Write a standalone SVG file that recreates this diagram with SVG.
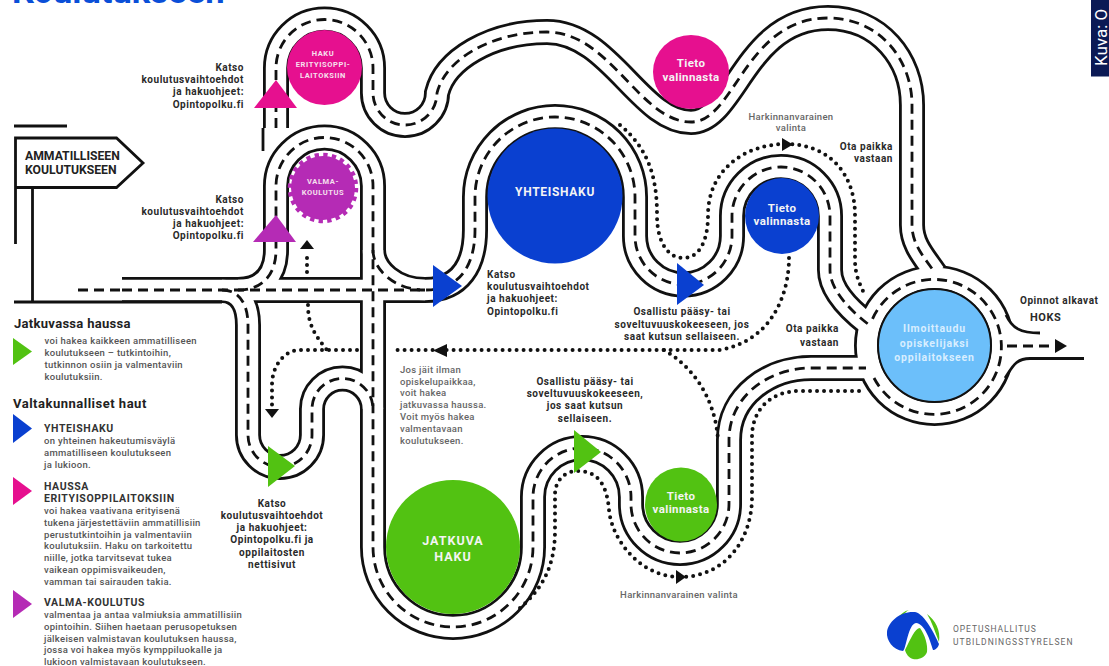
<svg xmlns="http://www.w3.org/2000/svg" width="1109" height="666" viewBox="0 0 1109 666">
<style>
text{font-family:"Roboto","Liberation Sans",sans-serif}
.e{fill:none;stroke:#111;stroke-width:26}
.w{fill:none;stroke:#fff;stroke-width:20.4}
.d{fill:none;stroke:#111;stroke-width:2.8;stroke-dasharray:10 6}
.l{fill:none;stroke:#111;stroke-width:2.8}
.o{fill:none;stroke:#111;stroke-width:4;stroke-linecap:round;stroke-dasharray:0 7}
.a{fill:#111}
.k{font-size:10px;font-weight:700;fill:#2a2a2a;letter-spacing:.55px}
.m{text-anchor:middle}.r{text-anchor:end}
.g{font-size:9.5px;fill:#666;letter-spacing:.3px;font-weight:500}
.b{font-size:9.5px;fill:#555;letter-spacing:.3px;font-weight:500}
.h{font-size:10.5px;font-weight:700;fill:#333;letter-spacing:.6px}
.t{font-size:11.5px;font-weight:700;fill:#f4f4f4;text-anchor:middle;letter-spacing:.4px}
.s{font-size:7.5px;font-weight:700;fill:#f6e0ee;text-anchor:middle;letter-spacing:.6px}
</style>
<defs>
<path id="r1" d="M276,128V68A48.5,48.5 0 0 1 373,68V93A32,32 0 0 0 437,93C445,60 490,32 547,32C610,32 640,122 691,122C735,122 745,18 828,18C880,18 912,60 912,105V225C912,245 925,258 935,273"/>
<path id="r2" d="M122,290H425C460,290 475,265 475,230V197A80,80 0 0 1 635,197V236A48.5,48.5 0 0 0 732,236V216A49,49 0 0 1 830,216V270C830,290 850,310 868,324"/>
<path id="r3" d="M238,290C262,290 276,275 276,250V186A48.5,48.5 0 0 1 373,186V547A80,80 0 0 0 533,547V497A49,49 0 0 1 631,497V504A49,49 0 0 0 729,504V440C729,395 770,368 811,368H866"/>
<path id="r4" d="M222,290C240,290 248,305 248,325V435A32,32 0 0 0 312,435V409A30.5,30.5 0 0 1 373,409"/>
<path id="r5" d="M373,250C373,270 395,290 425,290"/>
<circle id="r6" cx="934.500" cy="345.500" r="67.500"/>
<path id="r8" d="M874,378A67.500,67.500 0 1 0 872,320"/>
</defs>
<g id="connectors">
<g class="e"><use href="#r1"/><use href="#r2"/><use href="#r3"/><use href="#r4"/><use href="#r5"/><use href="#r6"/></g>
<g class="w"><use href="#r1"/><use href="#r2"/><use href="#r3"/><use href="#r4"/><use href="#r5"/><use href="#r6"/></g>
<path d="M1000,312L1006,315C1012,328 1020,333 1040,333V358.500H1030C1015,358.500 1012,368 1005,378L998,380Z" fill="#fff"/>
<g class="d"><use href="#r1"/><use href="#r2"/><use href="#r3"/><use href="#r4"/><use href="#r5"/><use href="#r8"/></g>
<path class="d" d="M78,290H122"/>
<path class="d" d="M1007,346H1055"/>
<path class="l" d="M14,302H222"/>
<path class="l" d="M263,128V151"/>
<path class="l" d="M1006,315C1012,328 1020,333 1040,333"/>
<path class="l" d="M1084,358.500H1030C1015,358.500 1012,368 1005,378"/>
<path class="o" d="M620,125C650,150 657,180 657,215C657,245 670,258 683,258C700,258 708,240 708,215C708,170 745,144 786,144C830,144 855,175 855,215V260C855,275 860,285 865,295"/>
<path class="o" d="M789,258C789,290 775,340 720,350H392"/>
<path class="o" d="M357,350H300C285,350 272,365 272,385V405"/>
<path class="o" d="M307,272V252"/>
<path class="o" d="M308,305C308,325 315,335 327,350"/>
<path class="o" d="M664,350C690,365 715,395 718,440"/>
<path class="o" d="M520,608C540,590 555,570 555,530V495C555,480 565,471 578,471C598,471 607,485 609,510C612,540 640,577 680,577C725,577 752,540 752,497V437C752,410 770,391 800,391H864"/>
<path class="a" d="M782,138L793,144.500L782,151Z"/>
<path class="a" d="M447,344L433,350.500L447,357Z"/>
<path class="a" d="M265,409H279L272,418Z"/>
<path class="a" d="M307,240L300,249H314Z"/>
<path class="a" d="M676,570L686,577L676,584Z"/>
<path class="a" d="M1055,339L1067,346L1055,353Z"/>
</g>
<g id="sign">
<path class="l" d="M15.500,244V138H116.500L143,163L116.500,187.500H15.500M32.500,187.500V302M14,126H67"/>
<text x="25" y="160" style="font-size:12.200px;font-weight:700;fill:#222">AMMATILLISEEN</text>
<text x="25" y="174" style="font-size:12.200px;font-weight:700;fill:#222">KOULUTUKSEEN</text>
</g>
<g id="node-haku">
<circle cx="324.500" cy="67.500" r="37.500" fill="#e6108f"/>
<text class="s" x="323" y="56">HAKU</text><text class="s" x="323" y="67">ERITYISOPPI-</text><text class="s" x="323" y="78">LAITOKSIIN</text>
</g>
<g id="node-valma">
<circle cx="323" cy="188" r="32" fill="#b52bb5"/>
<circle cx="323" cy="188" r="33" fill="none" stroke="#b52bb5" stroke-width="4.500" stroke-dasharray="4.320 4.320"/>
<text class="s" x="323" y="184">VALMA-</text><text class="s" x="323" y="194.500">KOULUTUS</text>
</g>
<g id="node-tieto-pink">
<ellipse cx="691" cy="72" rx="38" ry="37" fill="#e6108f"/>
<text class="t" x="691" y="67">Tieto</text><text class="t" x="691" y="81">valinnasta</text>
</g>
<g id="node-yhteishaku">
<circle cx="555" cy="196" r="67.500" fill="#0a40d0"/>
<text class="t" x="555" y="196" style="font-size:12px;letter-spacing:.7px">YHTEISHAKU</text>
</g>
<g id="node-tieto-blue">
<ellipse cx="782" cy="216" rx="37" ry="38" fill="#0a40d0"/>
<text class="t" x="782" y="212">Tieto</text><text class="t" x="782" y="225">valinnasta</text>
</g>
<g id="node-ilmoittaudu">
<circle cx="934.500" cy="345.500" r="56.500" fill="#6cbffa" stroke="#111" stroke-width="2"/>
<text class="t" x="934.500" y="332" style="fill:#d8eeff;font-size:10.500px;letter-spacing:.8px">Ilmoittaudu</text><text class="t" x="934.500" y="347" style="fill:#d8eeff;font-size:10.500px;letter-spacing:.8px">opiskelijaksi</text><text class="t" x="934.500" y="361" style="fill:#d8eeff;font-size:10.500px;letter-spacing:.8px">oppilaitokseen</text>
</g>
<g id="node-jatkuva">
<circle cx="453" cy="547" r="67" fill="#52c212"/>
<text class="t" x="453" y="545" style="font-size:12.500px;letter-spacing:1px">JATKUVA</text><text class="t" x="453" y="561" style="font-size:12.500px;letter-spacing:1px">HAKU</text>
</g>
<g id="node-tieto-green">
<ellipse cx="681" cy="504.500" rx="36" ry="37" fill="#52c212"/>
<text class="t" x="681" y="500">Tieto</text><text class="t" x="681" y="513">valinnasta</text>
</g>
<g id="tri-pink"><path d="M276,80L297,108H254Z" fill="#e6108f"/></g>
<g id="tri-valma"><path d="M276,215L296,242H253Z" fill="#b52bb5"/></g>
<g id="tri-blue-1"><path d="M433,265L462,286L433,307Z" fill="#0a40d0"/></g>
<g id="tri-blue-2"><path d="M677,263L704,285L677,305Z" fill="#0a40d0"/></g>
<g id="tri-green-1"><path d="M268,446L295,466L268,487Z" fill="#52c212"/></g>
<g id="tri-green-2"><path d="M574,430L601,452L574,473Z" fill="#52c212"/></g>
<g id="labels">
<text class="k r" x="244" y="71">Katso</text><text class="k r" x="244" y="83">koulutusvaihtoehdot</text><text class="k r" x="244" y="95">ja hakuohjeet:</text><text class="k r" x="244" y="107.500">Opintopolku.fi</text>
<text class="k r" x="244" y="203">Katso</text><text class="k r" x="244" y="215">koulutusvaihtoehdot</text><text class="k r" x="244" y="227">ja hakuohjeet:</text><text class="k r" x="244" y="239">Opintopolku.fi</text>
<text class="k" x="487" y="278">Katso</text><text class="k" x="487" y="290">koulutusvaihtoehdot</text><text class="k" x="487" y="302">ja hakuohjeet:</text><text class="k" x="487" y="315">Opintopolku.fi</text>
<text class="k m" x="682" y="315">Osallistu pääsy- tai</text><text class="k m" x="682" y="328">soveltuvuuskokeeseen, jos</text><text class="k m" x="682" y="340">saat kutsun sellaiseen.</text>
<text class="g m" x="791" y="119.500">Harkinnanvarainen</text><text class="g m" x="791" y="131">valinta</text>
<text class="k r" x="893" y="150">Ota paikka</text><text class="k r" x="893" y="162">vastaan</text>
<text class="k r" x="839" y="332">Ota paikka</text><text class="k r" x="839" y="346">vastaan</text>
<text class="k" x="1020" y="304">Opinnot alkavat</text><text class="k" x="1030" y="321" style="font-size:11px">HOKS</text>
<text class="g" x="400" y="373">Jos jäit ilman</text><text class="g" x="400" y="385">opiskelupaikkaa,</text><text class="g" x="400" y="396">voit hakea</text><text class="g" x="400" y="408">jatkuvassa haussa.</text><text class="g" x="400" y="420">Voit myös hakea</text><text class="g" x="400" y="432">valmentavaan</text><text class="g" x="400" y="444">koulutukseen.</text>
<text class="k m" x="585" y="385">Osallistu pääsy- tai</text><text class="k m" x="585" y="397">soveltuvuuskokeeseen,</text><text class="k m" x="585" y="409">jos saat kutsun</text><text class="k m" x="585" y="422">sellaiseen.</text>
<text class="k m" x="272" y="506.500">Katso</text><text class="k m" x="272" y="518.500">koulutusvaihtoehdot</text><text class="k m" x="272" y="530.500">ja hakuohjeet:</text><text class="k m" x="272" y="542.500">Opintopolku.fi ja</text><text class="k m" x="272" y="555.500">oppilaitosten</text><text class="k m" x="272" y="567.500">nettisivut</text>
<text class="g m" x="679" y="598">Harkinnanvarainen valinta</text>
</g>
<g id="legend">
<text x="14" y="328" style="font-size:13px;font-weight:700;fill:#222;letter-spacing:.3px">Jatkuvassa haussa</text>
<path d="M13,338L32,351.500L13,365Z" fill="#52c212"/>
<text class="b" x="44.500" y="344">voi hakea kaikkeen ammatilliseen</text><text class="b" x="44.500" y="356">koulutukseen – tutkintoihin,</text><text class="b" x="44.500" y="368">tutkinnon osiin ja valmentaviin</text><text class="b" x="44.500" y="380">koulutuksiin.</text>
<text x="13" y="408" style="font-size:13px;font-weight:700;fill:#222;letter-spacing:.5px">Valtakunnalliset haut</text>
<path d="M13,414L32,428.500L13,443Z" fill="#0a40d0"/>
<text class="h" x="44" y="432">YHTEISHAKU</text>
<text class="b" x="44" y="444">on yhteinen hakeutumisväylä</text><text class="b" x="44" y="456">ammatilliseen koulutukseen</text><text class="b" x="44" y="468">ja lukioon.</text>
<path d="M13,477L32,491L13,505Z" fill="#e6108f"/>
<text class="h" x="44" y="490">HAUSSA</text><text class="h" x="44" y="502">ERITYISOPPILAITOKSIIN</text>
<text class="b" x="44" y="514">voi hakea vaativana erityisenä</text><text class="b" x="44" y="526">tukena järjestettäviin ammatillisiin</text><text class="b" x="44" y="538">perustutkintoihin ja valmentaviin</text><text class="b" x="44" y="549">koulutuksiin. Haku on tarkoitettu</text><text class="b" x="44" y="561">niille, jotka tarvitsevat tukea</text><text class="b" x="44" y="573">vaikean oppimisvaikeuden,</text><text class="b" x="44" y="585">vamman tai sairauden takia.</text>
<path d="M13,590L32,604L13,618Z" fill="#b52bb5"/>
<text class="h" x="44" y="606">VALMA-KOULUTUS</text>
<text class="b" x="44" y="618">valmentaa ja antaa valmiuksia ammatillisiin</text><text class="b" x="44" y="630">opintoihin. Siihen haetaan perusopetuksen</text><text class="b" x="44" y="642">jälkeisen valmistavan koulutuksen haussa,</text><text class="b" x="44" y="653">jossa voi hakea myös kymppiluokalle ja</text><text class="b" x="44" y="665">lukioon valmistavaan koulutukseen.</text>
</g>
<text x="12" y="3" style="font-size:34.500px;font-weight:700;fill:#0a4fd8">Koulutukseen</text>
<g id="credit"><rect x="1091" y="0" width="18" height="76.500" fill="#0b1a55"/>
<text transform="translate(1107,66) rotate(-90)" style="font-size:17px;fill:#fff">Kuva: O</text></g>
<g id="logo">
<path d="M905,650C910,640 915,628 920,628C925,635 928,645 927,652C925,658 918,660 913,659C909,658 906,654 905,650Z" fill="#52c212"/>
<path d="M893,632C893,622 900,612 909,610C904,612 898,622 893,632Z" fill="#52c212"/>
<path d="M927,614C935,620 941,630 939,642C935,632 932,622 927,614Z" fill="#52c212"/>
<path d="M903,651C893,650 886,640 887,632C888,622 900,611 915,612C925,614 935,635 939,644C938,648 935,650 933,650C930,640 925,624 916,623C908,624 906,650 903,651Z" fill="#0a40d0"/>
<text x="953" y="632" style="font-size:8.500px;fill:#666;letter-spacing:.95px">OPETUSHALLITUS</text>
<text x="953" y="644.500" style="font-size:8.500px;fill:#666;letter-spacing:1.05px">UTBILDNINGSSTYRELSEN</text>
</g>
</svg>
